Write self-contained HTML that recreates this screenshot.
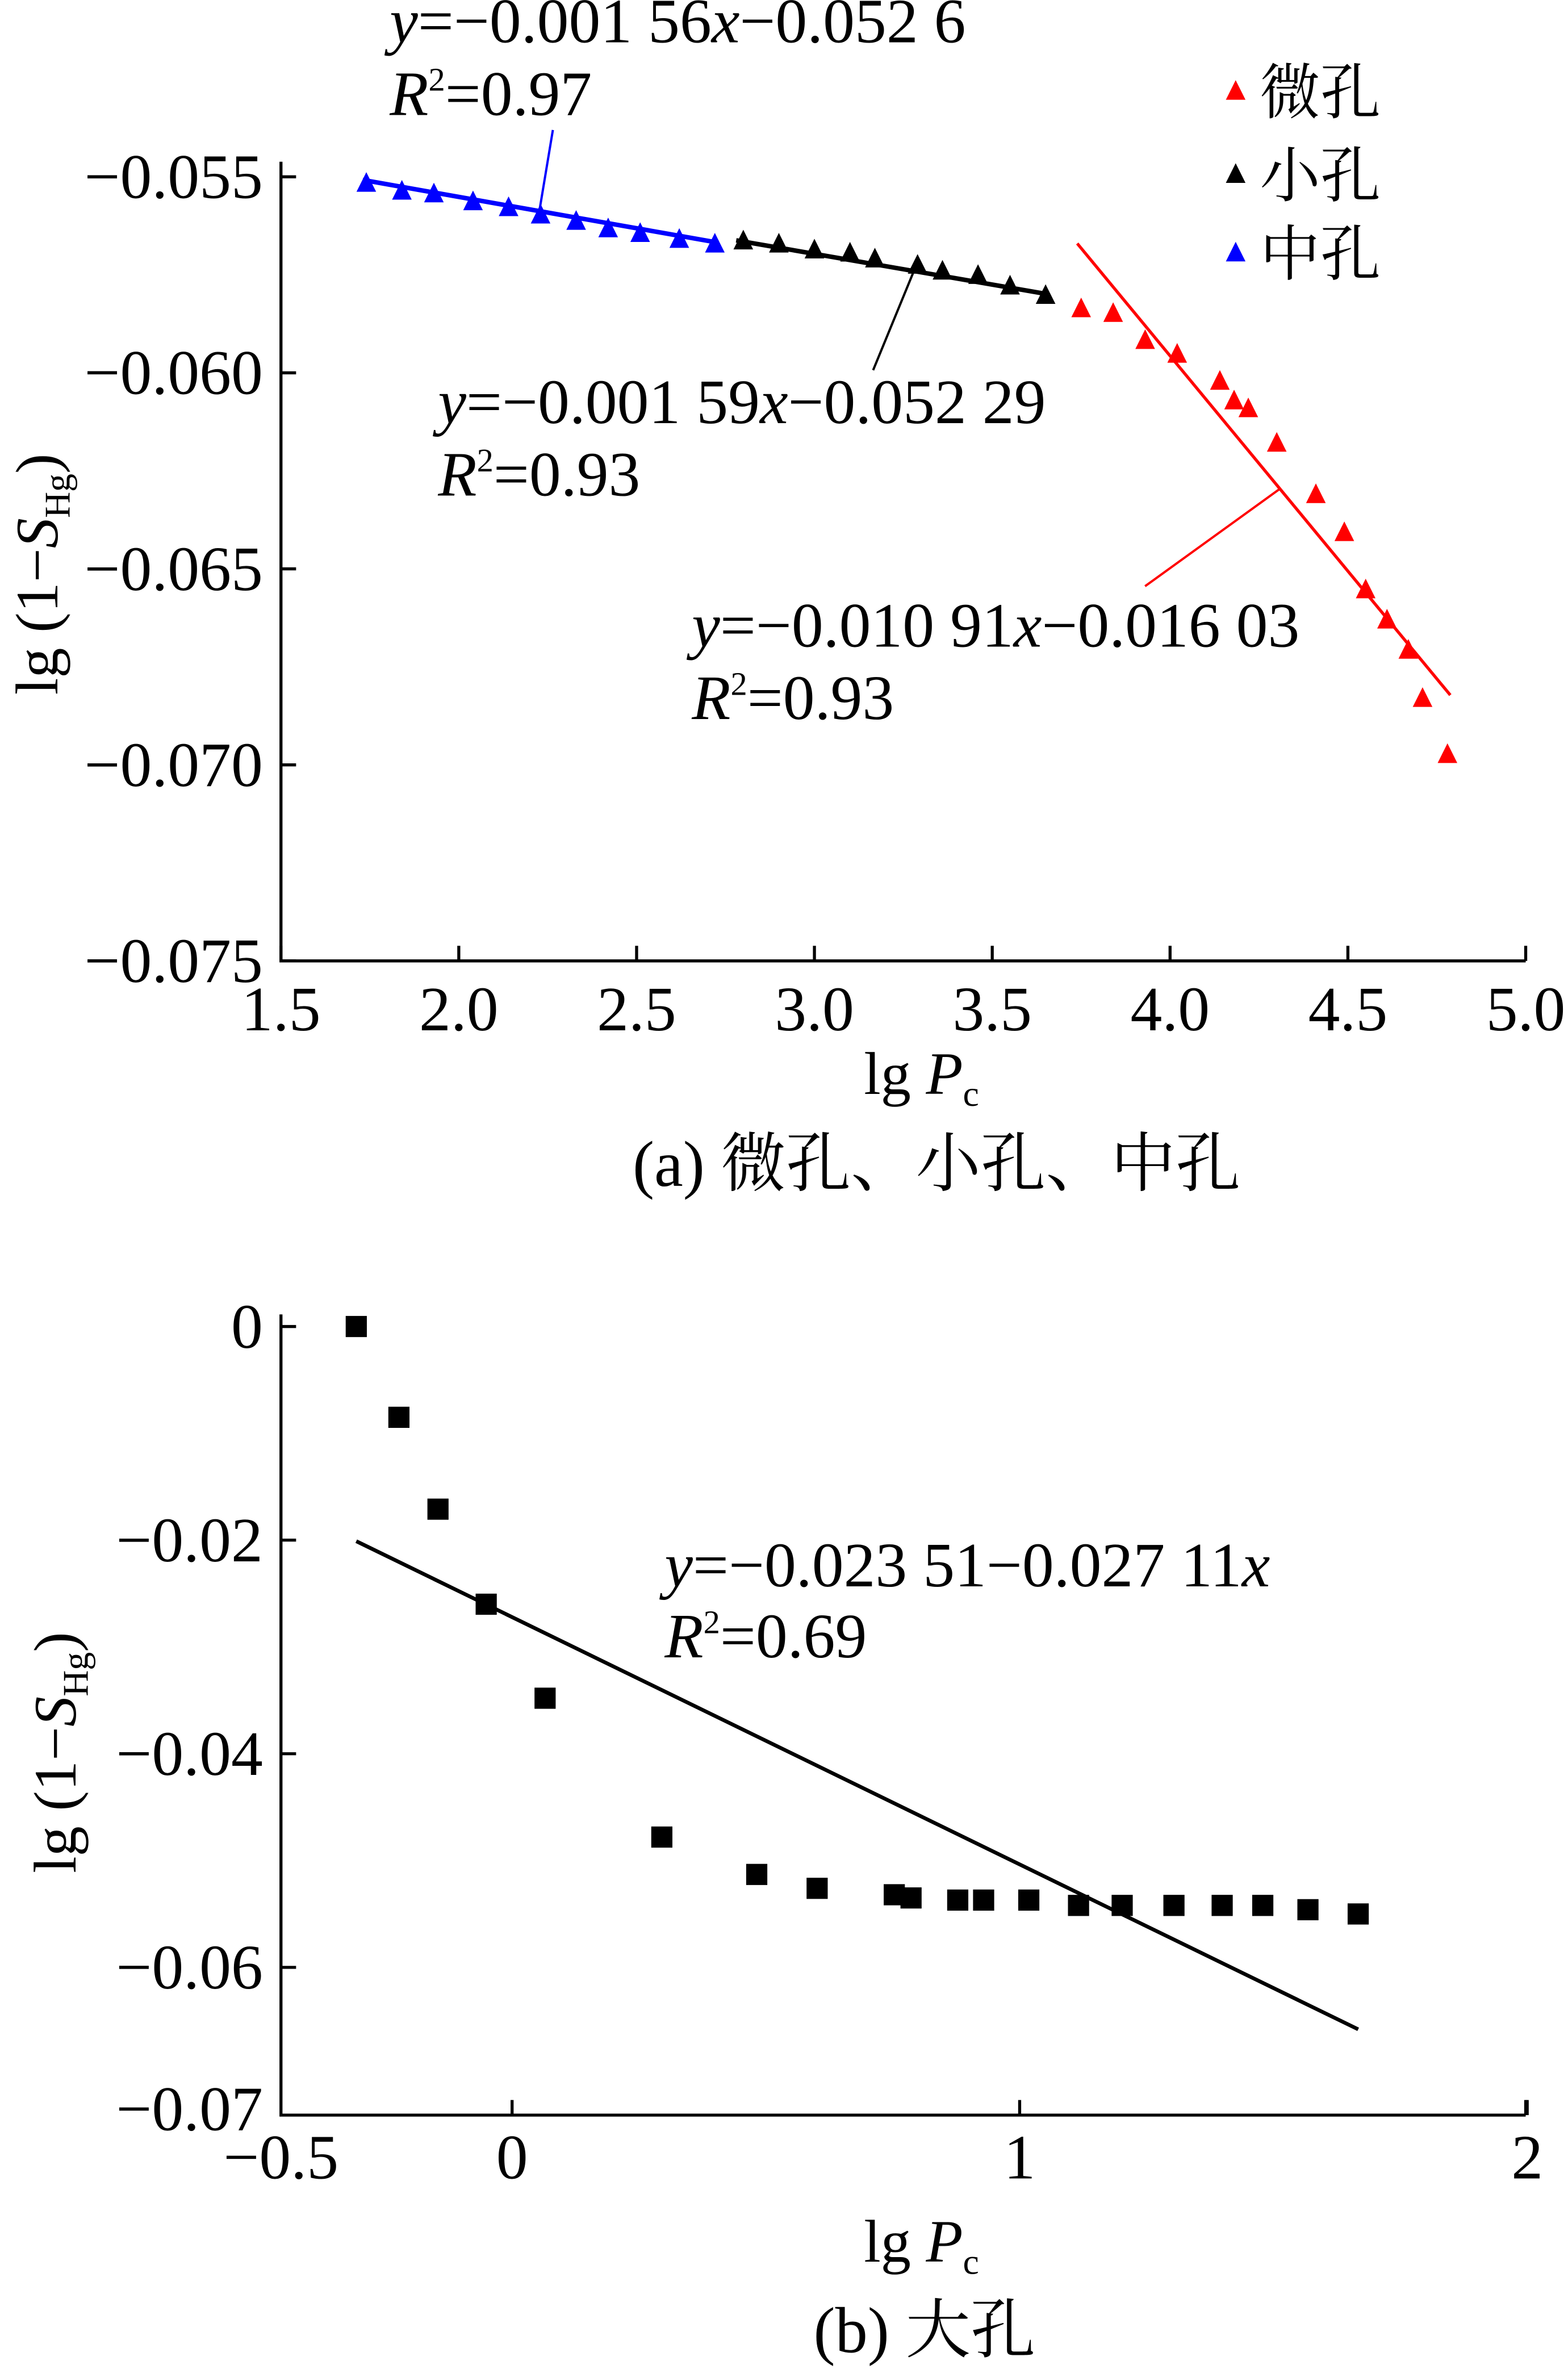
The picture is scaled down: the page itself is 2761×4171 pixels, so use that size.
<!DOCTYPE html>
<html><head><meta charset="utf-8"><style>
html,body{margin:0;padding:0;background:#fff;}
svg{display:block;}
text{font-family:"Liberation Serif","Noto Serif CJK SC",serif;fill:#000;}
</style></head><body>
<svg id="s" width="2761" height="4171" viewBox="0 0 1038 1568" xmlns="http://www.w3.org/2000/svg">
<g id="ga"></g>
<g id="gb"></g>
</svg>
<script>
// ---- chart a data ----
const aBlueX=[1.74,1.84,1.93,2.04,2.14,2.23,2.33,2.42,2.51,2.62,2.72];
const aBlueY=[-0.05515,-0.05535,-0.05542,-0.05562,-0.05577,-0.05596,-0.05612,-0.05631,-0.05643,-0.05658,-0.0567];
const aBlackX=[2.80,2.90,3.00,3.10,3.17,3.29,3.36,3.46,3.55,3.65];
const aBlackY=[-0.05662,-0.0567,-0.05685,-0.05693,-0.05708,-0.05724,-0.05739,-0.0575,-0.05777,-0.05801];
const aRedX=[3.75,3.84,3.93,4.02,4.14,4.18,4.22,4.30,4.41,4.49,4.55,4.61,4.67,4.71,4.78];
const aRedY=[-0.05835,-0.05847,-0.05916,-0.05951,-0.0602,-0.0607,-0.0609,-0.06178,-0.06309,-0.06406,-0.06552,-0.06629,-0.06706,-0.06829,-0.06972];
const aBlueFitX=[1.73,2.73], aBlueFitY=[-0.05508,-0.05668];
const aBlackFitX=[2.78,3.66], aBlackFitY=[-0.05662,-0.05800];
const aRedFitX=[3.739,4.788], aRedFitY=[-0.0567,-0.06822];
const aXTicks=[1.5,2.0,2.5,3.0,3.5,4.0,4.5,5.0];
const aXTickLabels=["1.5","2.0","2.5","3.0","3.5","4.0","4.5","5.0"];
const aYTicks=[-0.055,-0.060,-0.065,-0.070,-0.075];
const aYTickLabels=["−0.055","−0.060","−0.065","−0.070","−0.075"];
// ---- chart b data ----
const bX=[-0.307,-0.223,-0.146,-0.051,0.065,0.295,0.482,0.601,0.753,0.786,0.878,0.929,1.018,1.116,1.202,1.304,1.399,1.479,1.568,1.667];
const bY=[0.0,-0.0085,-0.0171,-0.0260,-0.0348,-0.0478,-0.0513,-0.0526,-0.0532,-0.0535,-0.0537,-0.0537,-0.0537,-0.0542,-0.0542,-0.0542,-0.0542,-0.0542,-0.0546,-0.0550];
const bFitX=[-0.307,1.667], bFitY=[-0.0201,-0.0658];
const bXTicks=[0,1,2];
const bXTickLabels=["0","1","2"];
const bYTicks=[0,-0.02,-0.04,-0.06];
const bYTickLabels=["0","−0.02","−0.04","−0.06"];

const NS="http://www.w3.org/2000/svg";
const FS=42;
function mk(parent,tag,attrs){const e=document.createElementNS(NS,tag);for(const k in attrs)e.setAttribute(k,attrs[k]);parent.appendChild(e);return e;}
function txt(parent,x,y,str,size,anchor){const t=mk(parent,'text',{x:x,y:y,'font-size':size,'text-anchor':anchor||'start'});t.innerHTML=str;return t;}

const ax=v=>186+(v-1.5)*(1010-186)/3.5;
const ay=v=>117+(-0.055-v)*(636-117)/0.020;
const ga=document.getElementById('ga');
let e;
e=mk(ga,'path',{d:`M186 ${ay(-0.055)-10} V636 H1010`,stroke:'#000','stroke-width':2,fill:'none'});


aXTicks.forEach((v,i)=>{
  e=mk(ga,'line',{x1:ax(v),x2:ax(v),y1:636,y2:626,stroke:'#000','stroke-width':2});
  
  
  e=txt(ga,ax(v),682,aXTickLabels[i],FS,'middle');
  
  
});
aYTicks.forEach((v,i)=>{
  e=mk(ga,'line',{x1:186,x2:196,y1:ay(v),y2:ay(v),stroke:'#000','stroke-width':2});
  
  
  e=txt(ga,174,ay(v)+14,aYTickLabels[i],FS,'end');
  
  
});
function fit(g,xs,ys,sx,sy,color,name,w){
  e=mk(g,'line',{x1:sx(xs[0]),y1:sy(ys[0]),x2:sx(xs[1]),y2:sy(ys[1]),stroke:color,'stroke-width':w});
  
  
}
function tri(g,xs,ys,color,name){
  xs.forEach((v,i)=>{
    const x=ax(v),y=ay(ys[i]);
    e=mk(g,'polygon',{points:`${x},${y-7} ${x-6.5},${y+6} ${x+6.5},${y+6}`,fill:color});
    
    
  });
}
fit(ga,aBlueFitX,aBlueFitY,ax,ay,'#0000ff','fit-line-mesopore',3);
fit(ga,aBlackFitX,aBlackFitY,ax,ay,'#000','fit-line-small-pore',3);
fit(ga,aRedFitX,aRedFitY,ax,ay,'#ff0000','fit-line-micropore',2);
tri(ga,aBlueX,aBlueY,'#0000ff','point-mesopore');
tri(ga,aBlackX,aBlackY,'#000','point-small-pore');
tri(ga,aRedX,aRedY,'#ff0000','point-micropore');
e=mk(ga,'line',{x1:366,y1:86,x2:357,y2:140,stroke:'#0000ff','stroke-width':1.5});


e=mk(ga,'line',{x1:608,y1:172,x2:578,y2:245,stroke:'#000','stroke-width':1.5});


e=mk(ga,'line',{x1:848,y1:323,x2:758,y2:388,stroke:'#ff0000','stroke-width':1.5});


const eq=(g,x,y,s,name)=>{e=txt(g,x,y,s,FS);};
const r2=v=>'<tspan font-style="italic">R</tspan><tspan font-size="22" dy="-16">2</tspan><tspan dy="16">='+v+'</tspan>';
eq(ga,258,28,'<tspan font-style="italic">y</tspan>=−0.001 56<tspan font-style="italic">x</tspan>−0.052 6','equation-mesopore');
eq(ga,258,76,r2('0.97'),'r2-mesopore');
eq(ga,290,280,'<tspan font-style="italic">y</tspan>=−0.001 59<tspan font-style="italic">x</tspan>−0.052 29','equation-small-pore');
eq(ga,290,328,r2('0.93'),'r2-small-pore');
eq(ga,458,428,'<tspan font-style="italic">y</tspan>=−0.010 91<tspan font-style="italic">x</tspan>−0.016 03','equation-micropore');
eq(ga,458,476,r2('0.93'),'r2-micropore');
[['#ff0000','微孔',60,'legend-micropore'],['#000','小孔',115,'legend-small-pore'],['#0000ff','中孔',167,'legend-mesopore']].forEach(L=>{
  e=mk(ga,'polygon',{points:`818,${L[2]-7} 811.5,${L[2]+6} 824.5,${L[2]+6}`,fill:L[0]});
  
  
  e=txt(ga,834,L[2]+15,L[1],40);
  
  
});
e=txt(ga,0,0,'lg (1−<tspan font-style="italic">S</tspan><tspan font-size="24" dy="8">Hg</tspan><tspan dy="-8">)</tspan>',40,'middle');
e.setAttribute('transform','translate(38,380) rotate(-90)');


e=txt(ga,610,724,'lg <tspan font-style="italic">P</tspan><tspan font-size="24" dy="8">c</tspan>',40,'middle');


e=txt(ga,620,785,'(a)  微孔、小孔、中孔',43,'middle');



const bx=v=>339+v*336;
const by=v=>878+(-v)*7070;
const gb=document.getElementById('gb');
e=mk(gb,'path',{d:`M186 870 V1400 H1010`,stroke:'#000','stroke-width':2,fill:'none'});


e=mk(gb,'line',{x1:1010,x2:1010,y1:1400,y2:1390,stroke:'#000','stroke-width':2});
bXTicks.forEach((v,i)=>{
  e=mk(gb,'line',{x1:bx(v),x2:bx(v),y1:1400,y2:1390,stroke:'#000','stroke-width':2});
  
  
  e=txt(gb,bx(v),1442,bXTickLabels[i],FS,'middle');
  
  
});
e=txt(gb,186,1442,'−0.5',FS,'middle');


bYTicks.forEach((v,i)=>{
  e=mk(gb,'line',{x1:186,x2:196,y1:by(v),y2:by(v),stroke:'#000','stroke-width':2});
  
  
  e=txt(gb,174,by(v)+14,bYTickLabels[i],FS,'end');
  
  
});
e=txt(gb,174,1410,'−0.07',FS,'end');


fit(gb,bFitX,bFitY,bx,by,'#000','fit-line-macropore',2.5);
bX.forEach((v,i)=>{
  e=mk(gb,'rect',{x:bx(v)-7,y:by(bY[i])-7,width:14,height:14,fill:'#000'});
  
  
});
eq(gb,440,1050,'<tspan font-style="italic">y</tspan>=−0.023 51−0.027 11<tspan font-style="italic">x</tspan>','equation-macropore');
eq(gb,440,1097,r2('0.69'),'r2-macropore');
e=txt(gb,0,0,'lg (1−<tspan font-style="italic">S</tspan><tspan font-size="24" dy="8">Hg</tspan><tspan dy="-8">)</tspan>',40,'middle');
e.setAttribute('transform','translate(50,1160) rotate(-90)');


e=txt(gb,610,1497,'lg <tspan font-style="italic">P</tspan><tspan font-size="24" dy="8">c</tspan>',40,'middle');


e=txt(gb,612,1557,'(b)  大孔',43,'middle');


</script>
</body></html>
